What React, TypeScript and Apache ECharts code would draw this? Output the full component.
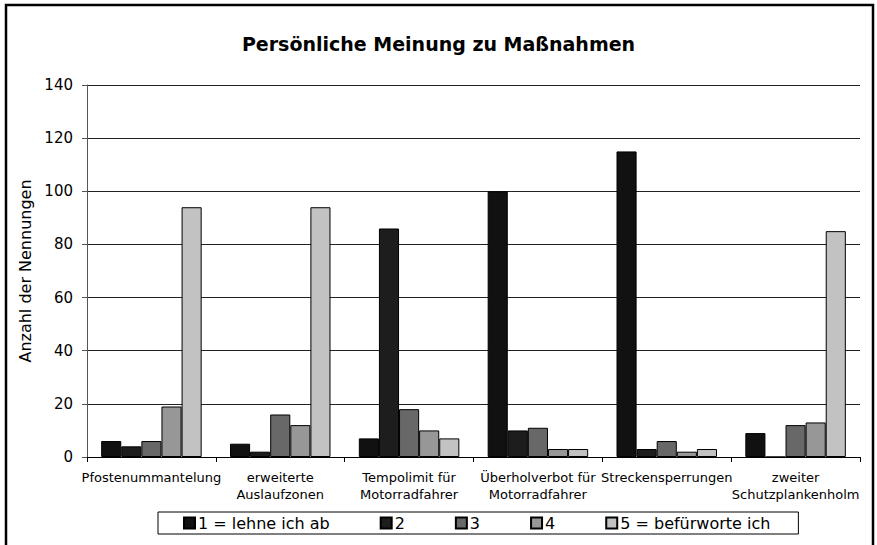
import React, { useEffect, useRef } from "react";
import * as echarts from "echarts";

const categories = [
  "Pfostenummantelung",
  "erweiterte\nAuslaufzonen",
  "Tempolimit für\nMotorradfahrer",
  "Überholverbot für\nMotorradfahrer",
  "Streckensperrungen",
  "zweiter\nSchutzplankenholm",
];
const seriesNames = ["1 = lehne ich ab", "2", "3", "4", "5 = befürworte ich"];
const s1 = [6, 5, 7, 100, 115, 9];
const s2 = [4, 2, 86, 10, 3, 0];
const s3 = [6, 16, 18, 11, 6, 12];
const s4 = [19, 12, 10, 3, 2, 13];
const s5 = [94, 94, 7, 3, 3, 85];
const yTicks = { min: 0, max: 140, interval: 20 };
const colors = ["#111111", "#1d1d1d", "#686868", "#979797", "#c2c2c2"];

const FONT = "'DejaVu Sans', Verdana, sans-serif";

export default function App() {
  const ref = useRef<HTMLDivElement>(null);
  useEffect(() => {
    if (!ref.current) return;
    const chart = echarts.init(ref.current, null, { renderer: "svg" });
    const data = [s1, s2, s3, s4, s5];
    chart.setOption({
      animation: false,
      backgroundColor: "#ffffff",
      textStyle: { fontFamily: FONT },
      title: {
        text: "Persönliche Meinung zu Maßnahmen",
        left: "center",
        top: 29,
        textStyle: { fontFamily: FONT, fontSize: 19, fontWeight: "bold", color: "#000" },
      },
      graphic: [
        {
          type: "rect",
          shape: { x: 6, y: 5, width: 867, height: 620 },
          style: { fill: "none", stroke: "#000", lineWidth: 2.5 },
          silent: true,
          z: 100,
        },
      ],
      legend: {
        left: 158,
        top: 512,
        itemWidth: 11,
        itemHeight: 11,
        itemGap: 50,
        padding: [3, 28, 3, 25],
        borderColor: "#000",
        borderWidth: 1,
        icon: "rect",
        textStyle: { fontFamily: FONT, fontSize: 16, color: "#000", padding: [0, 0, 0, -2] },
        data: seriesNames,
      },
      grid: { left: 87, right: 17, top: 85, bottom: 88, containLabel: false },
      xAxis: {
        type: "category",
        data: categories,
        axisLine: { lineStyle: { color: "#000", width: 1 } },
        axisTick: { show: true, length: 5, alignWithLabel: false, lineStyle: { color: "#000" } },
        axisLabel: {
          interval: 0,
          margin: 12,
          fontFamily: FONT,
          fontSize: 13,
          lineHeight: 17,
          color: "#000",
        },
      },
      yAxis: {
        type: "value",
        min: yTicks.min,
        max: yTicks.max,
        interval: yTicks.interval,
        name: "Anzahl der Nennungen",
        nameLocation: "middle",
        nameRotate: 90,
        nameGap: 53,
        nameTextStyle: { fontFamily: FONT, fontSize: 16, color: "#000" },
        axisLine: { show: true, lineStyle: { color: "#555", width: 1 } },
        axisTick: { show: true, length: 5, lineStyle: { color: "#555" } },
        axisLabel: { margin: 14, fontFamily: FONT, fontSize: 15, color: "#000" },
        splitLine: { show: true, lineStyle: { color: "#222", width: 1 } },
      },
      series: seriesNames.map((name, i) => ({
        name,
        type: "bar",
        data: data[i],
        barGap: "0%",
        barCategoryGap: "22%",
        itemStyle: { color: colors[i], borderColor: "#000", borderWidth: 1 },
      })),
    });
    return () => chart.dispose();
  }, []);
  return (
    <div
      ref={ref}
      style={{ position: "absolute", left: 0, top: 0, width: 877, height: 545 }}
    />
  );
}
